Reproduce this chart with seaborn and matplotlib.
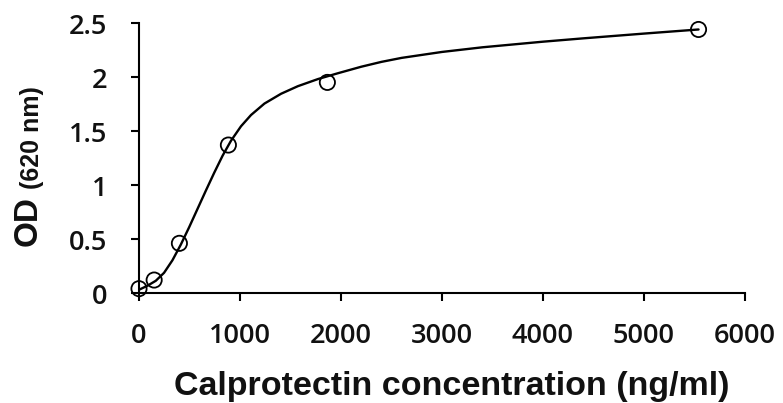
import matplotlib
matplotlib.use("Agg")
import matplotlib.pyplot as plt
import seaborn as sns
import pandas as pd

# Measured standards
conc = [0, 150, 400, 885, 1865, 5540]
od = [0.04, 0.12, 0.46, 1.37, 1.95, 2.44]

# Fitted curve
curve_x = [0, 83, 166, 248, 331, 414, 497, 579, 662, 745, 828, 911, 1010, 1109,
           1242, 1407, 1573, 1772, 1970, 2200, 2400, 2600, 3000, 3400, 4000,
           4400, 5000, 5540]
curve_y = [0.03, 0.067, 0.113, 0.187, 0.303, 0.448, 0.61, 0.778, 0.948, 1.114,
           1.272, 1.41, 1.544, 1.648, 1.754, 1.845, 1.915, 1.981, 2.035, 2.095,
           2.14, 2.177, 2.232, 2.275, 2.327, 2.358, 2.402, 2.44]

x_ticks = [0, 1000, 2000, 3000, 4000, 5000, 6000]
y_ticks = [0, 0.5, 1, 1.5, 2, 2.5]
y_tick_labels = ["0", "0.5", "1", "1.5", "2", "2.5"]

sns.set_theme(style="ticks")
plt.rcParams["font.family"] = ["Liberation Sans", "DejaVu Sans"]

fig = plt.figure(figsize=(7.83, 4.03), dpi=100)
ax = fig.add_axes([139 / 783, 1 - 293 / 403, (745 - 139) / 783, (293 - 23) / 403])

pts = pd.DataFrame({"conc": conc, "od": od})
crv = pd.DataFrame({"x": curve_x, "y": curve_y})

sns.lineplot(data=crv, x="x", y="y", ax=ax, color="black", linewidth=1.7, sort=False)
sns.scatterplot(data=pts, x="conc", y="od", ax=ax, s=120, facecolors="none",
                edgecolors="black", linewidths=1.3, zorder=3, clip_on=False)

ax.set_xlim(0, 6000)
ax.set_ylim(0, 2.5)
ax.set_xticks(x_ticks)
ax.set_xticklabels([str(v) for v in x_ticks])
ax.set_yticks(y_ticks)
ax.set_yticklabels(y_tick_labels)
for s in ["top", "right"]:
    ax.spines[s].set_visible(False)
for s in ["left", "bottom"]:
    ax.spines[s].set_linewidth(1.5)
    ax.spines[s].set_color("black")
ax.tick_params(axis="x", length=6, width=1.5, color="black", pad=15,
               labelsize=19.5, labelcolor="#111111")
ax.tick_params(axis="y", length=6, width=1.5, color="black", pad=17,
               labelsize=19.5, labelcolor="#111111")
for lab in ax.get_xticklabels() + ax.get_yticklabels():
    lab.set_fontfamily(["Open Sans", "DejaVu Sans"])
    lab.set_fontweight("semibold")

ax.set_xlabel("Calprotectin concentration (ng/ml)", fontsize=24.5, fontweight="bold",
              color="#111111")
ax.xaxis.set_label_coords((452 - 139) / 606, (293 - 395) / 270)
ax.xaxis.label.set_va("baseline")
ax.set_ylabel("")

fig.text(37 / 783, 1 - 221 / 403, "OD", rotation=90, rotation_mode="anchor",
         ha="center", va="baseline", fontsize=24, fontweight="bold", color="#111111")
fig.text(39 / 783, 1 - 138 / 403, "(620 nm)", rotation=90, rotation_mode="anchor",
         ha="center", va="baseline", fontsize=18, fontweight="bold", color="#111111")

fig.savefig("out.png", dpi=100)
